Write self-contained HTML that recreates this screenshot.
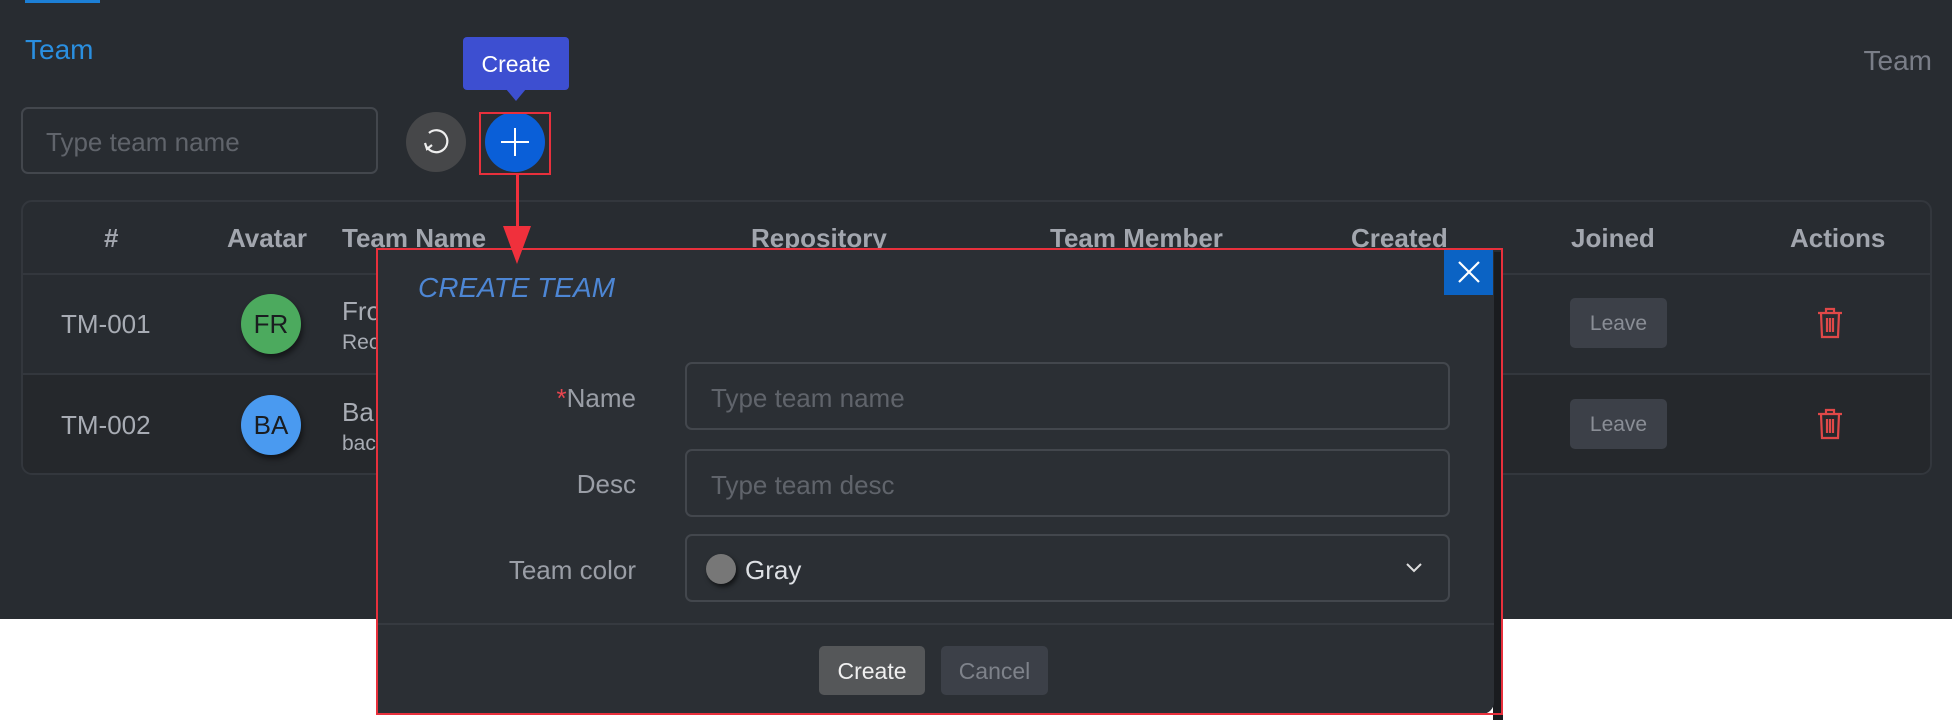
<!DOCTYPE html>
<html><head><meta charset="utf-8"><style>
*{box-sizing:border-box;margin:0;padding:0}
body{width:1952px;height:720px;background:#fff;position:relative;overflow:hidden;font-family:"Liberation Sans",sans-serif}
.a{position:absolute}
.t{position:absolute;white-space:nowrap;line-height:1}
.hd{color:#a2a6ae;font-weight:bold;font-size:26px;top:225px}
.inp{position:absolute;border:2px solid #43474d;border-radius:7px;left:685px;width:765px;height:68px}
.ph{color:#60646b;font-size:26px}
.lb{color:#9a9ea6;font-size:26px;right:1316px}
</style></head><body>
<div class="a" style="left:0;top:0;width:1952px;height:619px;background:#282c31"></div>
<div class="a" style="left:25px;top:0;width:75px;height:3px;background:#1c7fd6"></div>
<div class="t" style="left:25px;top:36px;font-size:28px;color:#2a8fe0">Team</div>
<div class="t" style="right:20px;top:47px;font-size:28px;color:#7a7e88">Team</div>

<div class="a" style="left:21px;top:107px;width:357px;height:67px;border:2px solid #43474d;border-radius:7px"></div>
<div class="t ph" style="left:46px;top:129px;font-size:26px">Type team name</div>
<div class="a" style="left:406px;top:112px;width:60px;height:60px;border-radius:50%;background:#464749"></div>
<svg class="a" style="left:421px;top:127px" width="30" height="30" viewBox="0 0 30 30"><path d="M8 6 A11 11 0 1 1 6 20" fill="none" stroke="#eee" stroke-width="2.2"/><path d="M4 16 L6 22 L11 18" fill="none" stroke="#eee" stroke-width="2.2"/></svg>
<div class="a" style="left:485px;top:112px;width:60px;height:60px;border-radius:50%;background:#0a5fd8"></div>
<div class="a" style="left:501px;top:141px;width:28px;height:2px;background:#fff"></div>
<div class="a" style="left:514px;top:128px;width:2px;height:28px;background:#fff"></div>
<div class="a" style="left:479px;top:112px;width:72px;height:63px;border:2px solid #e8303c"></div>
<div class="a" style="left:463px;top:37px;width:106px;height:53px;background:#3d4fd1;border-radius:4px"></div>
<div class="a" style="left:506px;top:89px;width:0;height:0;border-left:10px solid transparent;border-right:10px solid transparent;border-top:12px solid #3d4fd1"></div>
<div class="t" style="left:463px;width:106px;text-align:center;top:53px;font-size:23px;color:#fff">Create</div>

<div class="a" style="left:21px;top:200px;width:1911px;height:275px;border:2px solid #33373d;border-radius:11px;overflow:hidden">
<div class="a" style="left:0;top:71px;width:100%;height:2px;background:#33373d"></div>
<div class="a" style="left:0;top:171px;width:100%;height:102px;background:#25282c;border-top:2px solid #33373d"></div>
</div>
<div class="t hd" style="left:104px">#</div>
<div class="t hd" style="left:227px">Avatar</div>
<div class="t hd" style="left:342px">Team Name</div>
<div class="t hd" style="left:751px">Repository</div>
<div class="t hd" style="left:1050px">Team Member</div>
<div class="t hd" style="left:1351px">Created</div>
<div class="t hd" style="left:1571px">Joined</div>
<div class="t hd" style="left:1790px">Actions</div>

<div class="t" style="left:61px;top:311px;font-size:26px;color:#a8acb4">TM-001</div>
<div class="a" style="left:241px;top:294px;width:60px;height:60px;border-radius:50%;background:#4caa5e;box-shadow:2px 4px 6px rgba(0,0,0,.5)"></div>
<div class="t" style="left:241px;width:60px;text-align:center;top:311px;font-size:26px;color:#1a1d20">FR</div>
<div class="t" style="left:342px;top:298px;font-size:26px;color:#a8acb4">Fro</div>
<div class="t" style="left:342px;top:332px;font-size:21px;color:#a8acb4">Rec</div>
<div class="t" style="left:61px;top:412px;font-size:26px;color:#a8acb4">TM-002</div>
<div class="a" style="left:241px;top:395px;width:60px;height:60px;border-radius:50%;background:#4a9af0;box-shadow:2px 4px 6px rgba(0,0,0,.5)"></div>
<div class="t" style="left:241px;width:60px;text-align:center;top:412px;font-size:26px;color:#1a1d20">BA</div>
<div class="t" style="left:342px;top:399px;font-size:26px;color:#a8acb4">Ba</div>
<div class="t" style="left:342px;top:433px;font-size:21px;color:#a8acb4">bac</div>

<div class="a" style="left:1570px;top:298px;width:97px;height:50px;background:#3c4048;border-radius:5px"></div>
<div class="t" style="left:1570px;width:97px;text-align:center;top:313px;font-size:21px;color:#8a8e96">Leave</div>
<div class="a" style="left:1570px;top:399px;width:97px;height:50px;background:#3c4048;border-radius:5px"></div>
<div class="t" style="left:1570px;width:97px;text-align:center;top:414px;font-size:21px;color:#8a8e96">Leave</div>
<svg class="a" style="left:1815px;top:306px" width="30" height="34" viewBox="0 0 30 34"><g fill="none" stroke="#e04848" stroke-width="2.2"><path d="M3 7 H27 M11 7 V3 H19 V7 M6 7 L7 31 H23 L24 7 M12 12 V26 M15 12 V26 M18 12 V26"/></g></svg>
<svg class="a" style="left:1815px;top:407px" width="30" height="34" viewBox="0 0 30 34"><g fill="none" stroke="#e04848" stroke-width="2.2"><path d="M3 7 H27 M11 7 V3 H19 V7 M6 7 L7 31 H23 L24 7 M12 12 V26 M15 12 V26 M18 12 V26"/></g></svg>

<div class="a" style="left:1493px;top:252px;width:10px;height:468px;background:#1a1c1f"></div>
<div class="a" style="left:377px;top:248px;width:1117px;height:466px;background:#2b2f34;border-radius:0 0 12px 0"></div>
<div class="a" style="left:377px;top:623px;width:1117px;height:2px;background:#363a40"></div>
<div class="a" style="left:1444px;top:249px;width:49px;height:46px;background:#0b63c4"></div>
<svg class="a" style="left:1456px;top:259px" width="26" height="26"><path d="M3 3 L23 23 M23 3 L3 23" stroke="#fff" stroke-width="2.2"/></svg>
<div class="t" style="left:418px;top:274px;font-size:28px;font-style:italic;color:#4d86d4">CREATE TEAM</div>

<div class="t lb" style="top:385px"><span style="color:#e8454f">*</span>Name</div>
<div class="t lb" style="top:471px">Desc</div>
<div class="t lb" style="top:557px">Team color</div>
<div class="inp" style="top:362px"></div>
<div class="t ph" style="left:711px;top:385px">Type team name</div>
<div class="inp" style="top:449px"></div>
<div class="t ph" style="left:711px;top:472px">Type team desc</div>
<div class="inp" style="top:534px"></div>
<div class="a" style="left:706px;top:554px;width:30px;height:30px;border-radius:50%;background:#777;box-shadow:2px 3px 5px rgba(0,0,0,.6)"></div>
<div class="t" style="left:745px;top:557px;font-size:26px;color:#dde0e4">Gray</div>
<svg class="a" style="left:1405px;top:562px" width="18" height="12"><path d="M2 2 L9 9 L16 2" fill="none" stroke="#ddd" stroke-width="2"/></svg>

<div class="a" style="left:819px;top:646px;width:106px;height:49px;background:#555759;border-radius:5px"></div>
<div class="t" style="left:819px;width:106px;text-align:center;top:660px;font-size:23px;color:#f0f0f0">Create</div>
<div class="a" style="left:941px;top:646px;width:107px;height:49px;background:#3c4048;border-radius:5px"></div>
<div class="t" style="left:941px;width:107px;text-align:center;top:660px;font-size:23px;color:#7e828a">Cancel</div>

<div class="a" style="left:376px;top:248px;width:1127px;height:467px;border:2px solid #e8303c"></div>
<div class="a" style="left:516px;top:174px;width:3px;height:60px;background:#f0303c"></div>
<div class="a" style="left:503px;top:226px;width:0;height:0;border-left:14px solid transparent;border-right:14px solid transparent;border-top:38px solid #f0303c"></div>
</body></html>
